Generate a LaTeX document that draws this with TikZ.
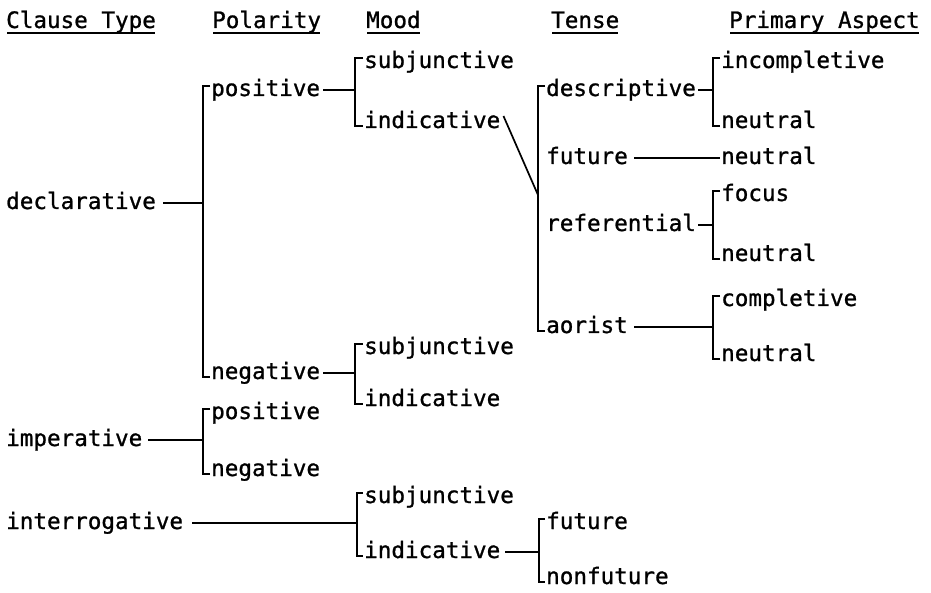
\documentclass[tikz,border=0pt]{standalone}
\usepackage{fontspec}
\setmainfont{DejaVu Sans Mono}
\newfontfamily\twfont{DejaVu Sans Mono}[FakeBold=1.0]
\usetikzlibrary{calc}
% bracket: #1 column coordinate, #2 top child, #3 bottom child
\newcommand\brk[3]{%
  \draw[ln] ([xshift=-1pt,yshift=10pt]#2.base west) -| ([yshift=2pt]#1 |- #3.base west) -- ([xshift=-1pt,yshift=2pt]#3.base west);}
% line from parent #1 to column #2, gap #3
\newcommand\pline[3]{%
  \draw[ln] ([xshift=#3,yshift=6pt]#1.base east) -- ([yshift=6pt]#1.base east -| #2);}
\begin{document}
\begin{tikzpicture}[x=1pt,y=-1pt,
  lbl/.style={inner sep=0pt, font=\twfont\fontsize{22.6}{26}\selectfont, anchor=base west},
  ln/.style={line width=1.7pt, line cap=butt}]
\fill[white] (0,0) rectangle (931,593);
\useasboundingbox (0,0) rectangle (931,593);
% column coordinates
\coordinate (c1) at (203,0);
\coordinate (c2) at (355,0);
\coordinate (c2q) at (357,0);
\coordinate (c3) at (538,0);
\coordinate (c3q) at (539,0);
\coordinate (c4) at (713,0);
\coordinate (tj) at (538,195);
% headers
\node[lbl] (h1) at (6,28) {Clause Type};
\node[lbl] (h2) at (212,28) {Polarity};
\node[lbl] (h3) at (366,28) {Mood};
\node[lbl] (h4) at (551,28) {Tense};
\node[lbl] (h5) at (729,28) {Primary Aspect};
\foreach \h in {h1,h2,h3,h4,h5}
  \draw[line width=1.4pt] ([xshift=1pt,yshift=-5pt]\h.base west) -- ([xshift=-1pt,yshift=-5pt]\h.base east);
% clause types
\node[lbl] (decl) at (6,209) {declarative};
\node[lbl] (imp) at (6,446) {imperative};
\node[lbl] (inter) at (6,529) {interrogative};
% polarity
\node[lbl] (posD) at (211,96) {positive};
\node[lbl] (negD) at (211,379) {negative};
\node[lbl] (posI) at (211,419) {positive};
\node[lbl] (negI) at (211,476) {negative};
% mood
\node[lbl] (subjP) at (364,68) {subjunctive};
\node[lbl] (indP) at (364,128) {indicative};
\node[lbl] (subjN) at (364,354) {subjunctive};
\node[lbl] (indN) at (364,406) {indicative};
\node[lbl] (subjQ) at (364,503) {subjunctive};
\node[lbl] (indQ) at (364,558) {indicative};
% tense
\node[lbl] (desc) at (546,96) {descriptive};
\node[lbl] (fut) at (546,164) {future};
\node[lbl] (ref) at (546,231) {referential};
\node[lbl] (aor) at (546,333) {aorist};
\node[lbl] (futQ) at (546,529) {future};
\node[lbl] (nonfut) at (546,584) {nonfuture};
% aspect
\node[lbl] (incomp) at (721,68) {incompletive};
\node[lbl] (neuA) at (721,128) {neutral};
\node[lbl] (neuB) at (721,164) {neutral};
\node[lbl] (focus) at (721,201) {focus};
\node[lbl] (neuC) at (721,261) {neutral};
\node[lbl] (compl) at (721,306) {completive};
\node[lbl] (neuD) at (721,361) {neutral};
% connectors
\pline{decl}{c1}{7pt}
\brk{c1}{posD}{negD}
\pline{imp}{c1}{6pt}
\brk{c1}{posI}{negI}
\pline{inter}{c2q}{9pt}
\brk{c2q}{subjQ}{indQ}
\pline{posD}{c2}{3pt}
\brk{c2}{subjP}{indP}
\pline{negD}{c2}{3pt}
\brk{c2}{subjN}{indN}
\draw[ln] ([xshift=3pt,yshift=12pt]indP.base east) -- (tj);
\brk{c3}{desc}{aor}
\pline{indQ}{c3q}{5pt}
\brk{c3q}{futQ}{nonfut}
\pline{desc}{c4}{2pt}
\brk{c4}{incomp}{neuA}
\draw[ln] ([xshift=6pt,yshift=6pt]fut.base east) -- ([xshift=-1pt,yshift=6pt]neuB.base west);
\pline{ref}{c4}{2pt}
\brk{c4}{focus}{neuC}
\pline{aor}{c4}{6pt}
\brk{c4}{compl}{neuD}
\end{tikzpicture}
\end{document}
